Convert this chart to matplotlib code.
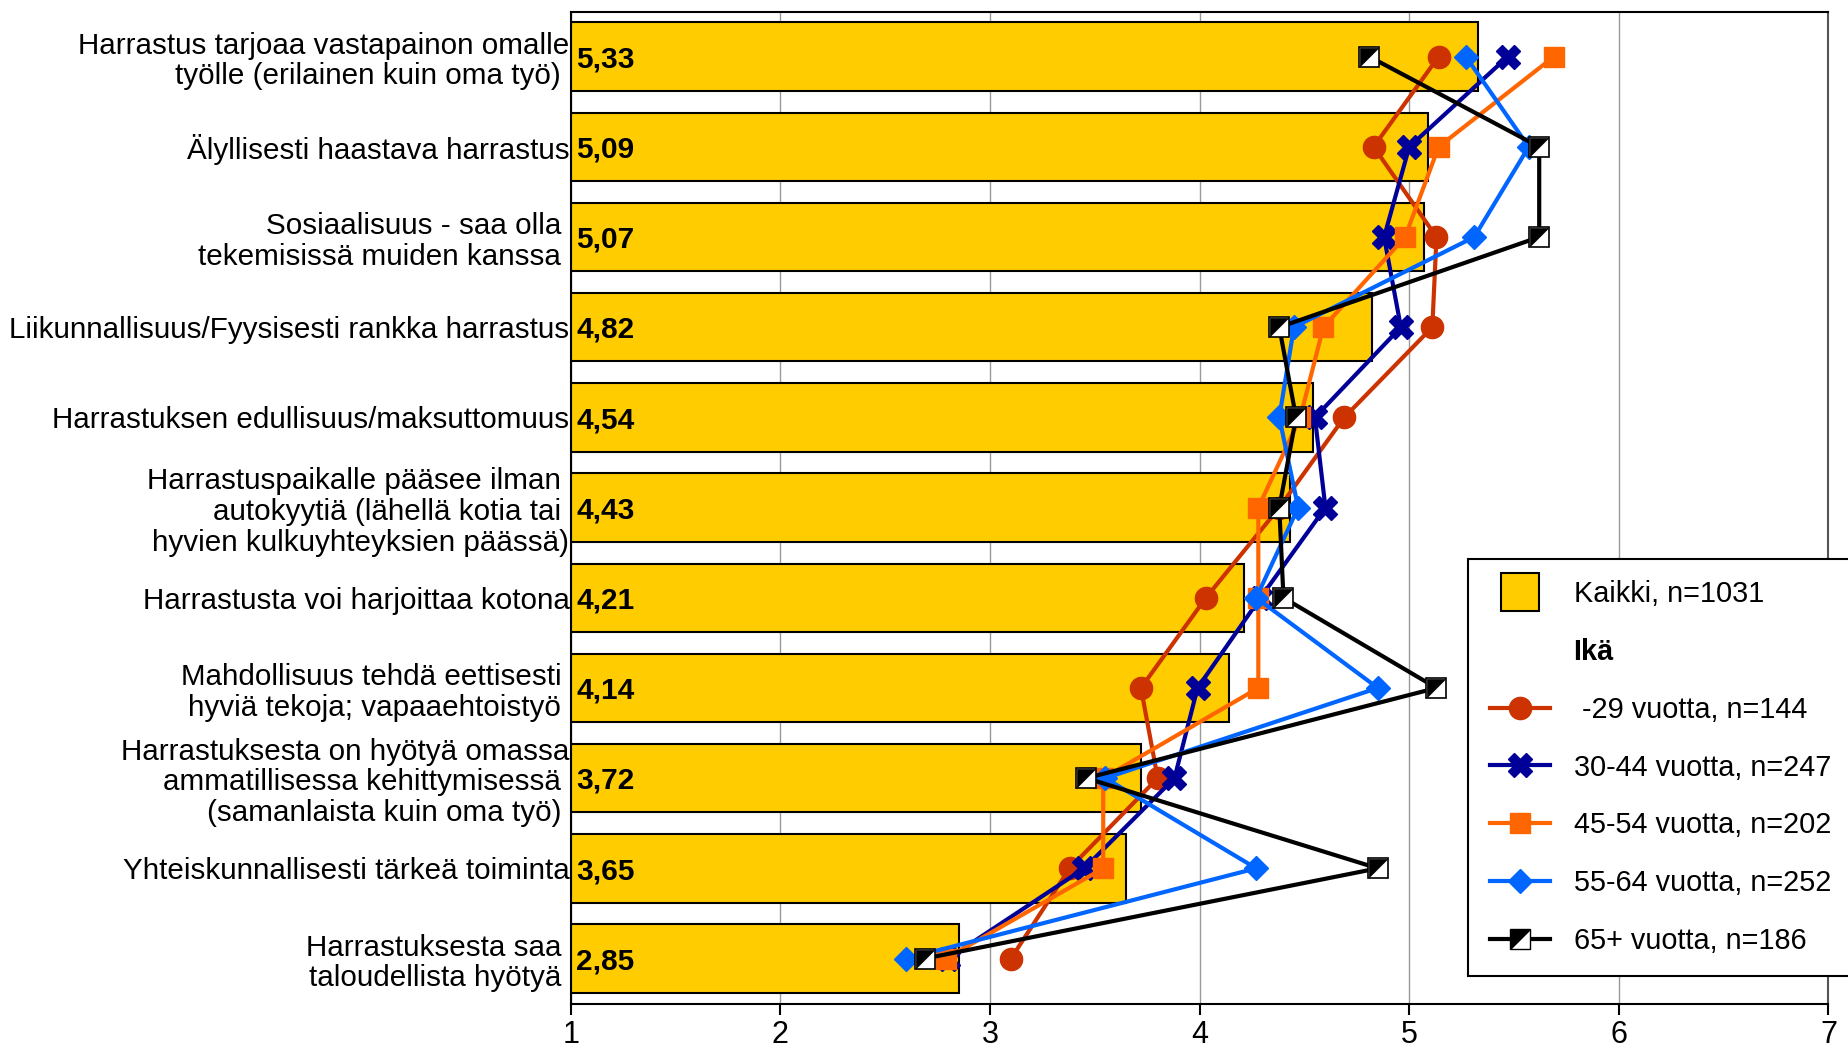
import numpy as np
import matplotlib
matplotlib.use("Agg")
import matplotlib.pyplot as plt
from matplotlib.lines import Line2D
from matplotlib.legend_handler import HandlerTuple

plt.rcParams["font.family"] = ["Liberation Sans", "DejaVu Sans"]

categories = [
    "Harrastus tarjoaa vastapainon omalle\ntyölle (erilainen kuin oma työ) ",
    "Älyllisesti haastava harrastus",
    "Sosiaalisuus - saa olla \ntekemisissä muiden kanssa ",
    "Liikunnallisuus/Fyysisesti rankka harrastus",
    "Harrastuksen edullisuus/maksuttomuus",
    "Harrastuspaikalle pääsee ilman \nautokyytiä (lähellä kotia tai \nhyvien kulkuyhteyksien päässä)",
    "Harrastusta voi harjoittaa kotona",
    "Mahdollisuus tehdä eettisesti \nhyviä tekoja; vapaaehtoistyö ",
    "Harrastuksesta on hyötyä omassa\nammatillisessa kehittymisessä \n(samanlaista kuin oma työ) ",
    "Yhteiskunnallisesti tärkeä toiminta",
    "Harrastuksesta saa \ntaloudellista hyötyä ",
]

kaikki = [5.33, 5.09, 5.07, 4.82, 4.54, 4.43, 4.21, 4.14, 3.72, 3.65, 2.85]
age_29 = [5.14, 4.83, 5.13, 5.11, 4.69, 4.38, 4.03, 3.72, 3.80, 3.38, 3.10]
age_30_44 = [5.47, 5.00, 4.88, 4.96, 4.55, 4.60, 4.29, 3.99, 3.88, 3.45, 2.80]
age_45_54 = [5.69, 5.14, 4.98, 4.59, 4.48, 4.28, 4.28, 4.28, 3.54, 3.54, 2.79]
age_55_64 = [5.27, 5.57, 5.31, 4.45, 4.38, 4.47, 4.27, 4.85, 3.55, 4.27, 2.60]
age_65 = [4.81, 5.62, 5.62, 4.38, 4.46, 4.38, 4.40, 5.13, 3.46, 4.85, 2.69]

series_labels = [" -29 vuotta, n=144", "30-44 vuotta, n=247", "45-54 vuotta, n=202",
                 "55-64 vuotta, n=252", "65+ vuotta, n=186"]

y = np.arange(len(categories))

fig = plt.figure(figsize=(18.49, 10.52), dpi=100)
ax = fig.add_axes([0.3087, 0.046, 0.6802, 0.943])

# bars start at the axis minimum (1)
ax.barh(y, np.array(kaikki) - 1, left=1, height=0.76, color="#FFCC00",
        edgecolor="black", linewidth=1.5, zorder=2)
for yi, v in zip(y, kaikki):
    ax.text(1.025, yi + 0.03, f"{v:.2f}".replace(".", ","), va="center", ha="left",
            fontsize=21.5, fontweight="bold", zorder=3)

lw = 3
ax.plot(age_29, y, color="#CC3300", lw=lw, marker="o", ms=16, zorder=4)
ax.plot(age_30_44, y, color="#000099", lw=lw, marker="X", ms=17, zorder=4)
ax.plot(age_45_54, y, color="#FF6600", lw=lw, marker="s", ms=15, zorder=4)
ax.plot(age_55_64, y, color="#0066FF", lw=lw, marker="D", ms=12, zorder=4)
ax.plot(age_65, y, color="black", lw=lw, zorder=4)
ax.plot(age_65, y, ls="none", marker="s", ms=14, mfc="white", mec="black", mew=1.2, zorder=5)
tri = [(-1, 1), (1, 1), (-1, -1), (-1, 1)]
ax.plot(age_65, y, ls="none", marker=tri, ms=13, mfc="black", mec="black", mew=0.5, zorder=6)

ax.set_xlim(1, 7)
ax.set_ylim(10.5, -0.5)
ax.set_xticks(range(1, 8))
ax.tick_params(axis="x", labelsize=22, length=8, width=1.5, direction="out")
ax.set_yticks(y)
ax.set_yticklabels(categories, fontsize=21.3, linespacing=1.12)
ax.tick_params(axis="y", length=0, pad=1)
ax.grid(axis="x", color="#999999", lw=1, zorder=0)
ax.set_axisbelow(True)
for s in ["left", "top", "bottom"]:
    ax.spines[s].set_linewidth(1.5)
ax.spines["right"].set_color("#555555")
ax.spines["right"].set_linewidth(1.5)

handles = [
    Line2D([], [], ls="none", marker="s", ms=27, mfc="#FFCC00", mec="black", mew=1.5),
    Line2D([], [], ls="none"),
    Line2D([], [], color="#CC3300", lw=lw, marker="o", ms=16),
    Line2D([], [], color="#000099", lw=lw, marker="X", ms=17),
    Line2D([], [], color="#FF6600", lw=lw, marker="s", ms=15),
    Line2D([], [], color="#0066FF", lw=lw, marker="D", ms=12),
    (Line2D([], [], color="black", lw=lw, marker="s", ms=14, mfc="white", mec="black"),
     Line2D([], [], ls="none", marker=tri, ms=13, mfc="black", mec="black")),
]
labels = ["Kaikki, n=1031", "Ikä"] + series_labels
leg = fig.legend(handles, labels, loc="upper left", bbox_to_anchor=(0.794, 0.469),
                 borderaxespad=0, fontsize=20.8, frameon=True, fancybox=False,
                 framealpha=1, edgecolor="black", labelspacing=1.03, handlelength=2.1,
                 handletextpad=0.8, borderpad=0.75,
                 handler_map={tuple: HandlerTuple(ndivide=1)})
leg.get_frame().set_linewidth(1.5)
leg.get_texts()[1].set_fontweight("bold")

fig.savefig("out.png", dpi=100)
